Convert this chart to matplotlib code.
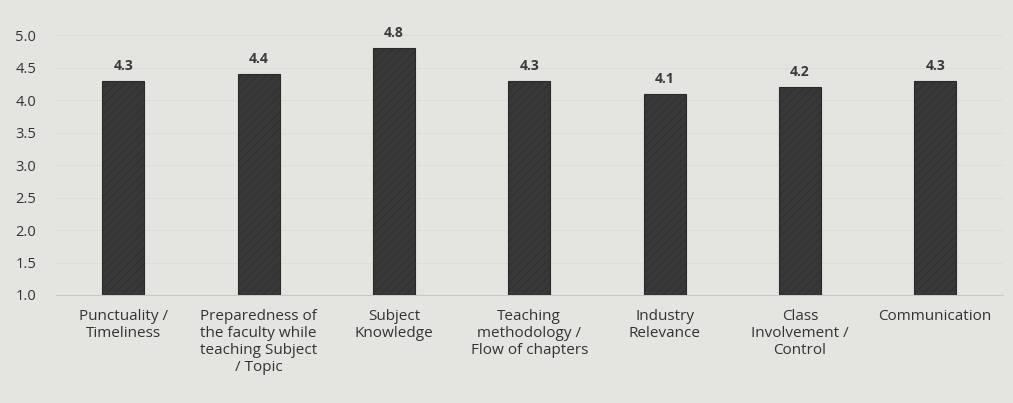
import matplotlib
matplotlib.use("Agg")
import matplotlib.pyplot as plt
import numpy as np

categories = [
    "Punctuality /\nTimeliness",
    "Preparedness of\nthe faculty while\nteaching Subject\n/ Topic",
    "Subject\nKnowledge",
    "Teaching\nmethodology /\nFlow of chapters",
    "Industry\nRelevance",
    "Class\nInvolvement /\nControl",
    "Communication",
]
values = [4.3, 4.4, 4.8, 4.3, 4.1, 4.2, 4.3]
yticks = [1.0, 1.5, 2.0, 2.5, 3.0, 3.5, 4.0, 4.5, 5.0]
base = 1.0

plt.rcParams['font.family'] = ['Open Sans', 'DejaVu Sans']
plt.rcParams['hatch.color'] = '#4e4e4e'
plt.rcParams['hatch.linewidth'] = 0.4

fig = plt.figure(figsize=(10.13, 4.03), dpi=100)
bg = "#e4e4e1"
fig.patch.set_facecolor(bg)
ax = fig.add_axes([0.055, 0.268, 0.935, 0.645])
ax.set_facecolor(bg)

x = np.arange(len(categories))
bars = ax.bar(x, [v - base for v in values], bottom=base, width=0.31,
              color="#383838", edgecolor="#2a2a2a", linewidth=0.8,
              hatch="////", zorder=3)

for xi, v in zip(x, values):
    ax.text(xi, v + 0.12, f"{v:.1f}", ha="center", va="bottom",
            fontsize=10, fontweight="bold", color="#3a3a3a")

ax.set_ylim(1.0, 5.0)
ax.set_xlim(-0.5, len(categories) - 0.5)
ax.set_yticks(yticks)
ax.set_yticklabels([f"{t:.1f}" for t in yticks], fontsize=10.5, color="#333333")
ax.set_xticks(x)
ax.set_xticklabels(categories, fontsize=11, color="#333333", linespacing=1.2,
                   va="top")
ax.tick_params(axis="both", length=0)
ax.tick_params(axis="x", pad=10)
ax.tick_params(axis="y", pad=14)
ax.yaxis.grid(True, color="#dbdbd8", linewidth=0.6, zorder=0)
for s in ["top", "right", "left"]:
    ax.spines[s].set_visible(False)
ax.spines["bottom"].set_color("#c8c8c5")
ax.spines["bottom"].set_linewidth(0.8)

fig.savefig("out.png", dpi=100, facecolor=bg)
